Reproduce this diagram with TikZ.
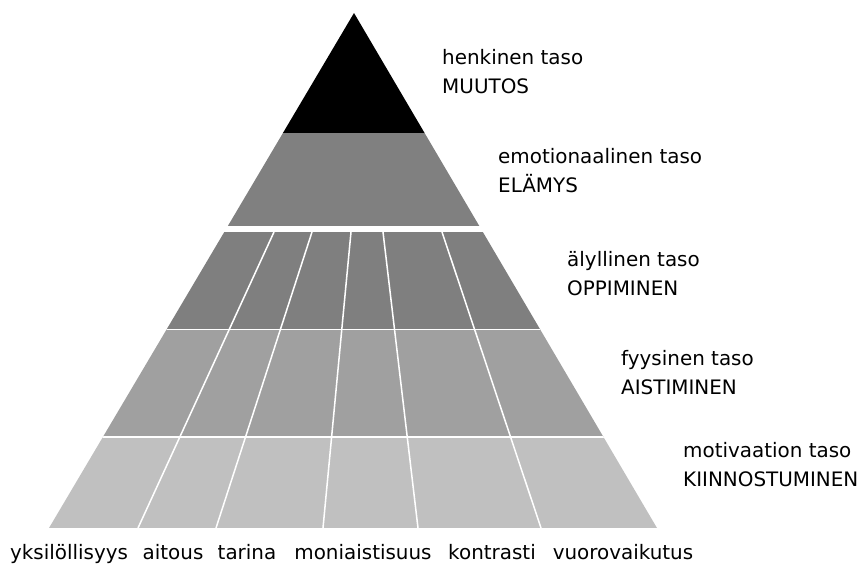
\documentclass[tikz,border=0pt]{standalone}
\usepackage{fontspec}
\setmainfont{DejaVu Sans}
\usetikzlibrary{calc, positioning}
\definecolor{tasoHenki}{HTML}{000000}
\definecolor{tasoTunne}{HTML}{808080}
\definecolor{tasoAly}{HTML}{7F7F7F}
\definecolor{tasoKeho}{HTML}{A0A0A0}
\definecolor{tasoMotiv}{HTML}{C0C0C0}
\colorlet{colTeksti}{black}
\tikzset{
  tekstiBase/.style={font=\fontsize{17}{20}\selectfont, text=colTeksti, inner sep=0pt},
  tasoNimi/.style={tekstiBase, anchor=base west},
  sanaAla/.style={tekstiBase, anchor=base},
  jakoViiva/.style={draw=white, line width=1.3pt},
}

\begin{document}
\begin{tikzpicture}[x=0.3mm, y=-0.3mm]
    \useasboundingbox (0,0) rectangle (867,565);
    \coordinate (huippu) at (354,13);
    \coordinate (kantaV) at (49,528);
    \coordinate (kantaO) at (657,528);
    % pyramidin tasot
    \begin{scope}
      \clip (huippu) -- (kantaO) -- (kantaV) -- cycle;
      \fill[tasoHenki] (0,0) rectangle (867,133);
      \fill[tasoTunne] (0,133) rectangle (867,226);
      \fill[tasoAly] (0,232) rectangle (867,329.5);
      \fill[tasoKeho] (0,329.5) rectangle (867,437);
      \fill[tasoMotiv] (0,437) rectangle (867,528);
      \draw[jakoViiva] (0,329.5) -- (867,329.5);
      \draw[jakoViiva] (0,437) -- (867,437);
      \foreach \xa/\xb in {274/138, 312/216, 351/323, 383/418, 442/541}
        \draw[jakoViiva] (\xa,232) -- (\xb,528);
    \end{scope}
    % tasojen nimet
    \node[tasoNimi] (t1) at (442,64) {henkinen taso};
    \node[tasoNimi] (n1) at ($(t1.base west)+(0,29.5)$) {MUUTOS};
    \node[tasoNimi] (t2) at (498,163) {emotionaalinen taso};
    \node[tasoNimi] (n2) at ($(t2.base west)+(0,29.5)$) {ELÄMYS};
    \node[tasoNimi] (t3) at (567,266) {älyllinen taso};
    \node[tasoNimi] (n3) at ($(t3.base west)+(0,29.5)$) {OPPIMINEN};
    \node[tasoNimi] (t4) at (621,365) {fyysinen taso};
    \node[tasoNimi] (n4) at ($(t4.base west)+(0,29.5)$) {AISTIMINEN};
    \node[tasoNimi] (t5) at (683,457) {motivaation taso};
    \node[tasoNimi] (n5) at ($(t5.base west)+(0,29.5)$) {KIINNOSTUMINEN};
    % alarivin sanat
    \node[sanaAla] (s1) at (69,559) {yksilöllisyys};
    \node[sanaAla] (s2) at (173,559) {aitous};
    \node[sanaAla] (s3) at (247,559) {tarina};
    \node[sanaAla] (s4) at (363,559) {moniaistisuus};
    \node[sanaAla] (s5) at (492,559) {kontrasti};
    \node[sanaAla] (s6) at (623,559) {vuorovaikutus};
  \end{tikzpicture}
\end{document}
